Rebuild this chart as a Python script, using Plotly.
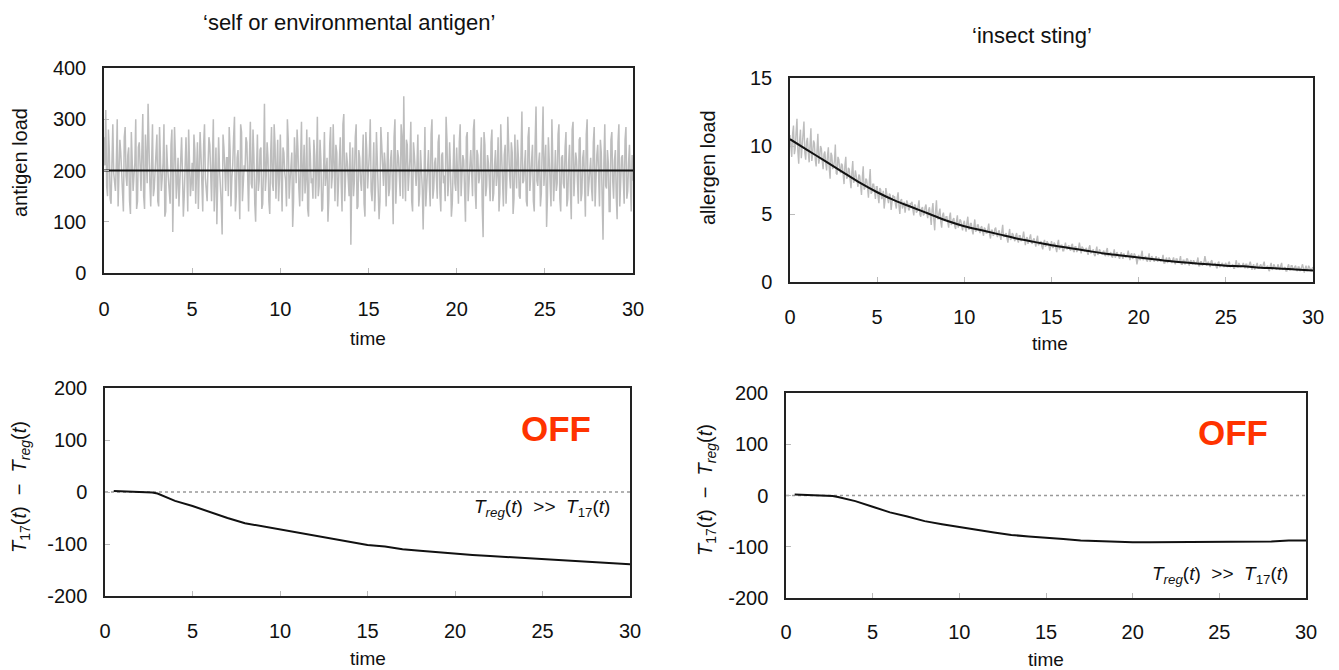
import plotly.graph_objects as go

# ---------------- data ----------------
t_noise = [round(i * 0.1, 1) for i in range(301)]
t_noise_b = [round(i * 0.1 + 0.05, 2) for i in range(300)]

antigen_noise = [
    265, 318, 150, 240, 135, 290, 180, 215, 130, 260,
    205, 120, 285, 170, 245, 115, 230, 190, 300, 140,
    255, 160, 310, 125, 220, 330, 175, 245, 150, 200,
    270, 130, 235, 185, 290, 120, 210, 165, 250, 80,
    285, 145, 225, 175, 265, 110, 240, 195, 280, 150,
    215, 270, 135, 255, 180, 230, 120, 290, 165, 210,
    250, 140, 300, 190, 95, 265, 175, 75, 245, 160,
    225, 285, 130, 210, 305, 150, 240, 105, 275, 185,
    200, 255, 120, 295, 165, 230, 100, 270, 180, 245,
    135, 330, 190, 225, 115, 285, 160, 250, 205, 140,
    270, 120, 235, 180, 300, 145, 215, 90, 265, 175,
    240, 130, 295, 195, 155, 280, 110, 230, 185, 260,
    145, 305, 170, 220, 125, 275, 200, 100, 250, 165,
    290, 140, 235, 185, 265, 120, 310, 175, 215, 150,
    55, 245, 180, 290, 130, 225, 160, 270, 110, 240,
    195, 300, 140, 255, 170, 220, 105, 285, 185, 235,
    130, 275, 165, 240, 95, 300, 180, 225, 150, 265,
    345, 140, 250, 190, 295, 120, 230, 170, 270, 155,
    210, 85, 285, 180, 240, 130, 300, 165, 225, 145,
    270, 120, 235, 190, 305, 150, 255, 110, 215, 175,
    245, 135, 290, 180, 220, 100, 275, 165, 240, 150,
    300, 125, 230, 185, 265, 70, 250, 170, 215, 140,
    280, 155, 240, 195, 120, 290, 175, 230, 135, 305,
    190, 255, 115, 270, 165, 225, 145, 315, 180, 240,
    130, 285, 200, 250, 120, 325, 170, 235, 155, 325,
    210, 90, 265, 180, 300, 140, 240, 175, 290, 120,
    230, 165, 275, 145, 250, 105, 295, 185, 220, 135,
    265, 155, 240, 110, 300, 175, 225, 140, 285, 190,
    250, 130, 235, 65, 290, 165, 215, 120, 275, 145,
    240, 105, 290, 170, 230, 135, 285, 160, 250, 120,
    180,
]

antigen_noise_b = [
    210, 170, 280, 145, 250, 195, 160, 300, 185, 235,
    150, 265, 190, 230, 140, 275, 160, 215, 125, 245,
    185, 240, 150, 270, 175, 210, 130, 290, 165, 225,
    140, 285, 160, 215, 110, 250, 190, 135, 280, 170,
    230, 180, 130, 255, 195, 150, 265, 120, 215, 175,
    160, 240, 200, 125, 275, 150, 250, 185, 140, 265,
    180, 220, 120, 245, 160, 205, 135, 270, 190, 225,
    150, 240, 185, 265, 120, 225, 175, 290, 140, 210,
    265, 150, 225, 175, 280, 135, 200, 160, 240, 125,
    210, 160, 255, 140, 230, 175, 290, 145, 260, 185,
    150, 245, 195, 130, 260, 180, 235, 140, 205, 280,
    165, 220, 140, 250, 185, 125, 265, 175, 145, 230,
    200, 150, 260, 120, 240, 170, 225, 145, 285, 190,
    160, 250, 130, 215, 175, 290, 140, 235, 160, 255,
    190, 150, 265, 125, 240, 180, 215, 135, 275, 165,
    235, 160, 215, 120, 275, 185, 140, 250, 170, 210,
    250, 150, 220, 180, 265, 135, 240, 170, 290, 145,
    200, 260, 160, 225, 140, 255, 185, 210, 130, 240,
    165, 240, 130, 225, 175, 270, 145, 215, 185, 255,
    155, 230, 175, 140, 260, 180, 205, 135, 270, 160,
    190, 255, 150, 230, 170, 265, 140, 210, 185, 280,
    160, 240, 175, 215, 130, 275, 150, 230, 180, 255,
    140, 210, 170, 265, 155, 230, 130, 250, 185, 220,
    165, 235, 145, 205, 260, 150, 230, 175, 210, 140,
    265, 160, 225, 140, 255, 180, 215, 130, 245, 170,
    250, 150, 215, 130, 240, 185, 160, 270, 145, 225,
    175, 245, 130, 215, 160, 280, 150, 235, 175, 260,
    140, 225, 180, 270, 150, 210, 165, 255, 130, 230,
    185, 260, 150, 215, 170, 240, 120, 260, 180, 220,
    150, 255, 130, 225, 180, 260, 145, 215, 175, 230,
]

t_mean_antigen = [0, 30]
antigen_mean = [200, 200]

allergen_noise = [
    10.8, 9.2, 11.5, 9.8, 12.0, 8.7, 11.2, 10.1, 11.8, 9.0,
    10.6, 8.8, 11.3, 9.4, 10.2, 8.5, 10.9, 9.1, 9.8, 8.3,
    9.6, 8.2, 9.9, 7.6, 9.3, 8.5, 10.1, 7.9, 9.0, 8.0,
    8.6, 7.2, 9.2, 7.7, 8.3, 6.9, 8.9, 7.5, 7.9, 7.0,
    7.8, 6.4, 8.5, 6.9, 7.5, 6.2, 8.3, 6.6, 7.2, 6.1,
    7.0, 5.8, 6.8, 6.2, 5.4, 6.9, 5.9, 6.5, 5.3, 6.4,
    6.3, 5.4, 6.6, 5.0, 6.1, 5.6, 5.1, 6.0, 5.3, 5.8,
    5.9, 4.9, 5.6, 5.2, 6.0, 4.8, 5.5, 5.0, 5.7, 4.7,
    5.5, 4.2, 5.8, 3.8, 6.0, 4.6, 5.4, 4.0, 5.1, 4.5,
    4.8, 4.0, 5.1, 4.3, 4.7, 3.9, 4.9, 4.2, 4.5, 3.8,
    4.5, 3.7, 4.8, 3.9, 4.3, 3.5, 4.6, 3.8, 4.2, 3.6,
    4.1, 3.4, 3.9, 3.6, 4.3, 3.2, 3.8, 3.5, 4.0, 3.3,
    3.8, 3.1, 4.2, 3.4, 3.6, 2.9, 3.9, 3.2, 3.5, 3.0,
    3.6, 2.9, 3.4, 3.1, 3.7, 2.7, 3.3, 3.0, 3.5, 2.8,
    3.2, 2.6, 3.4, 2.8, 3.0, 2.4, 3.1, 2.7, 2.9, 2.3,
    3.0, 2.5, 2.8, 2.2, 3.1, 2.6, 2.7, 2.3, 2.9, 2.4,
    2.7, 2.3, 2.8, 2.2, 2.6, 2.4, 2.9, 2.1, 2.5, 2.3,
    2.5, 2.0, 2.7, 2.2, 2.4, 1.9, 2.6, 2.1, 2.3, 2.0,
    2.3, 1.9, 2.5, 2.0, 2.2, 1.8, 2.4, 1.9, 2.1, 1.7,
    2.2, 1.7, 2.0, 1.9, 2.3, 1.6, 2.1, 1.8, 1.9, 1.3,
    2.0, 1.6, 2.3, 1.7, 1.9, 1.5, 2.1, 1.6, 1.8, 1.5,
    1.9, 1.5, 1.7, 1.6, 2.0, 1.4, 1.8, 1.5, 1.7, 1.4,
    1.8, 1.3, 1.7, 1.5, 1.9, 1.3, 1.6, 1.4, 1.7, 1.2,
    1.6, 1.3, 1.5, 1.4, 1.8, 1.2, 1.5, 1.3, 1.9, 1.2,
    1.5, 1.1, 1.6, 1.3, 1.4, 1.0, 1.5, 1.2, 1.4, 1.1,
    1.4, 1.1, 1.5, 1.2, 1.3, 1.0, 1.6, 1.1, 1.3, 1.2,
    1.4, 1.0, 1.3, 1.1, 1.5, 0.9, 1.3, 1.1, 1.4, 1.0,
    1.3, 1.0, 1.5, 1.1, 1.2, 0.8, 1.4, 1.0, 1.2, 0.9,
    1.3, 0.9, 1.4, 1.0, 1.1, 0.8, 1.3, 0.9, 1.2, 1.0,
    1.2, 0.8, 1.1, 0.9, 1.3, 0.7, 1.2, 0.9, 1.1, 0.8,
    1.1,
]

allergen_noise_b = [
    9.9, 10.9, 9.4, 11.0, 9.6, 10.4, 9.1, 10.7, 9.5, 10.3,
    9.5, 10.1, 8.9, 10.4, 9.0, 9.7, 8.7, 10.0, 8.9, 9.4,
    8.7, 9.3, 8.4, 9.5, 8.3, 8.9, 8.0, 9.2, 8.3, 8.7,
    7.9, 8.6, 7.6, 8.4, 7.5, 8.1, 7.3, 8.2, 7.4, 7.9,
    7.1, 7.7, 6.8, 7.6, 6.9, 7.4, 6.5, 7.2, 6.7, 7.0,
    6.3, 6.9, 6.1, 6.7, 6.0, 6.5, 5.8, 6.4, 5.9, 6.2,
    5.7, 6.2, 5.6, 6.0, 5.4, 5.9, 5.5, 5.8, 5.3, 5.7,
    5.3, 5.7, 5.1, 5.6, 5.0, 5.4, 4.9, 5.5, 5.0, 5.3,
    4.9, 5.3, 4.6, 5.2, 4.7, 5.1, 4.4, 4.9, 4.6, 4.8,
    4.4, 4.8, 4.2, 4.6, 4.1, 4.5, 4.0, 4.6, 4.1, 4.3,
    4.0, 4.4, 3.9, 4.3, 3.8, 4.1, 3.7, 4.2, 3.8, 4.0,
    3.7, 4.0, 3.6, 3.9, 3.5, 3.8, 3.4, 3.9, 3.5, 3.7,
    3.4, 3.7, 3.3, 3.6, 3.2, 3.5, 3.1, 3.6, 3.2, 3.4,
    3.1, 3.4, 3.0, 3.3, 2.9, 3.2, 2.8, 3.3, 2.9, 3.1,
    2.9, 3.1, 2.7, 3.0, 2.6, 2.9, 2.6, 3.0, 2.7, 2.8,
    2.6, 2.9, 2.5, 2.8, 2.4, 2.7, 2.3, 2.7, 2.5, 2.6,
    2.4, 2.7, 2.3, 2.6, 2.2, 2.5, 2.2, 2.6, 2.3, 2.4,
    2.2, 2.5, 2.1, 2.4, 2.0, 2.3, 2.0, 2.4, 2.1, 2.2,
    2.0, 2.3, 1.9, 2.2, 1.9, 2.1, 1.8, 2.2, 1.9, 2.0,
    1.9, 2.1, 1.8, 2.0, 1.7, 2.0, 1.7, 2.1, 1.8, 1.9,
    1.7, 2.0, 1.6, 1.9, 1.6, 1.8, 1.5, 1.9, 1.6, 1.7,
    1.6, 1.8, 1.5, 1.7, 1.4, 1.7, 1.4, 1.8, 1.5, 1.6,
    1.5, 1.7, 1.4, 1.6, 1.3, 1.6, 1.3, 1.7, 1.4, 1.5,
    1.4, 1.6, 1.3, 1.5, 1.2, 1.5, 1.2, 1.5, 1.3, 1.4,
    1.3, 1.5, 1.2, 1.4, 1.1, 1.4, 1.1, 1.4, 1.2, 1.3,
    1.2, 1.4, 1.1, 1.3, 1.0, 1.3, 1.1, 1.4, 1.1, 1.2,
    1.1, 1.3, 1.0, 1.3, 1.0, 1.2, 0.9, 1.3, 1.0, 1.2,
    1.1, 1.3, 1.0, 1.2, 0.9, 1.2, 0.9, 1.3, 1.0, 1.1,
    1.0, 1.2, 0.9, 1.1, 0.8, 1.1, 0.9, 1.2, 0.9, 1.0,
    0.9, 1.1, 0.8, 1.1, 0.8, 1.0, 0.8, 1.2, 0.9, 1.0,
]

t_int = list(range(31))
allergen_mean = [10.5, 9.7, 8.9, 8.1, 7.3, 6.6, 6.0, 5.5, 5.0, 4.5, 4.1,
                 3.8, 3.5, 3.2, 2.95, 2.7, 2.5, 2.3, 2.1, 1.95, 1.8,
                 1.65, 1.5, 1.4, 1.3, 1.2, 1.15, 1.05, 1.0, 0.92, 0.85]

t_diff = [0.5, 1.3, 2.0, 2.7, 3, 4, 5, 6, 7, 8, 9, 10, 11, 12, 13, 14, 15,
          16, 17, 18, 19, 20, 21, 22, 23, 24, 25, 26, 27, 28, 29, 30]
diff_self = [2, 1, -1, -1, -3, -17, -27, -39, -50, -60, -66, -72, -78, -84,
             -89, -96, -102, -105, -110, -113, -116, -118, -121, -123, -125,
             -127, -129, -131, -133, -135, -136, -139]
diff_sting = [2, 1, -1, -1, -3, -11, -22, -33, -41, -50, -56, -62, -67, -72,
              -77, -80, -82, -85, -88, -89, -91, -91, -91, -91, -91, -91,
              -91, -91, -91, -90, -88, -88]

x_ticks = [0, 5, 10, 15, 20, 25, 30]
diff_ticks = [-200, -100, 0, 100, 200]
diff_ticktext = ["-200", "-100", "0", "100", "200"]


def merged(ta, va, tb, vb):
    pts = sorted(zip(list(ta) + list(tb), list(va) + list(vb)))
    return [p[0] for p in pts], [p[1] for p in pts]


ag_t, ag_v = merged(t_noise, antigen_noise, t_noise_b, antigen_noise_b)
al_t, al_v = merged(t_noise, allergen_noise, t_noise_b, allergen_noise_b)

# ---------------- figure ----------------
W, H = 1339, 670
GRAY = "#bdbdbd"
FONT = "Liberation Sans, Arial, sans-serif"


def px_x(p):
    return p / W


def px_y(p):
    return 1 - p / H


fig = go.Figure()

fig.add_trace(go.Scatter(x=ag_t, y=ag_v, mode="lines",
                         line=dict(color=GRAY, width=1.5), xaxis="x", yaxis="y"))
fig.add_trace(go.Scatter(x=t_mean_antigen, y=antigen_mean, mode="lines",
                         line=dict(color="#111111", width=2), xaxis="x", yaxis="y"))

fig.add_trace(go.Scatter(x=al_t, y=al_v, mode="lines",
                         line=dict(color=GRAY, width=1.4), xaxis="x2", yaxis="y2"))
fig.add_trace(go.Scatter(x=t_int, y=allergen_mean, mode="lines",
                         line=dict(color="#111111", width=2, shape="spline"),
                         xaxis="x2", yaxis="y2"))

for xa, ya, d in (("x3", "y3", diff_self), ("x4", "y4", diff_sting)):
    fig.add_trace(go.Scatter(x=[0, 30], y=[0, 0], mode="lines",
                             line=dict(color="#999999", width=1.5, dash="dot"),
                             xaxis=xa, yaxis=ya))
    fig.add_trace(go.Scatter(x=t_diff, y=d, mode="lines",
                             line=dict(color="#111111", width=2),
                             xaxis=xa, yaxis=ya))


def xaxis(dom, anchor, standoff):
    return dict(domain=dom, anchor=anchor, range=[0, 30], tickvals=x_ticks,
                showgrid=False, zeroline=False, showline=True, mirror=True,
                linecolor="#222222", linewidth=1.5, ticks="inside", ticklen=5,
                tickcolor="#bbbbbb", tickwidth=1, automargin=False,
                tickfont=dict(family=FONT, size=20, color="#111111"),
                ticklabelstandoff=standoff)


def yaxis(dom, anchor, rng, tv, tt=None):
    d = dict(domain=dom, anchor=anchor, range=rng, tickvals=tv,
             showgrid=False, zeroline=False, showline=True, mirror=True,
             linecolor="#222222", linewidth=1.5, ticks="inside", ticklen=5,
             tickcolor="#bbbbbb", tickwidth=1, automargin=False,
             tickfont=dict(family=FONT, size=20, color="#111111"),
             ticklabelstandoff=12)
    if tt is not None:
        d["ticktext"] = tt
    return d


fig.update_layout(
    template="none",
    width=W, height=H, margin=dict(l=0, r=0, t=0, b=0, pad=0),
    paper_bgcolor="white", plot_bgcolor="white", showlegend=False,
    xaxis=xaxis([px_x(104), px_x(633)], "y", 17),
    yaxis=yaxis([px_y(273), px_y(68)], "x", [0, 400], [0, 100, 200, 300, 400]),
    xaxis2=xaxis([px_x(790), px_x(1313)], "y2", 16),
    yaxis2=yaxis([px_y(282), px_y(78)], "x2", [0, 15], [0, 5, 10, 15]),
    xaxis3=xaxis([px_x(105), px_x(630)], "y3", 16),
    yaxis3=yaxis([px_y(596), px_y(388)], "x3", [-200, 200], diff_ticks, diff_ticktext),
    xaxis4=xaxis([px_x(786), px_x(1306)], "y4", 15),
    yaxis4=yaxis([px_y(598), px_y(393)], "x4", [-200, 200], diff_ticks, diff_ticktext),
)

ann = []


def text(x, y, s, size=17, angle=0, color="#111111", **kw):
    ann.append(dict(x=px_x(x), y=px_y(y), xref="paper", yref="paper", text=s,
                    showarrow=False, textangle=angle,
                    font=dict(family=FONT, size=size, color=color),
                    xanchor="center", yanchor="middle", **kw))


text(349, 22, "‘self or environmental antigen’", 22)
text(1032, 35, "‘insect sting’", 22)
text(368, 338, "time", 19)
text(1050, 343, "time", 19)
text(368, 658, "time", 19)
text(1046, 659, "time", 19)
text(20, 163, "antigen load", 20, -90)
text(708, 168, "allergen load", 20, -90)
ylab = "<i>T</i><sub>17</sub>(<i>t</i>)  −  <i>T<sub>reg</sub></i>(<i>t</i>)"
text(20, 487, ylab, 20, -90)
text(706, 490, ylab, 20, -90)
text(556, 428, "<b>OFF</b>", 35, color="#ff3300")
text(1233, 432, "<b>OFF</b>", 35, color="#ff3300")
ann_txt = "<i>T<sub>reg</sub></i>(<i>t</i>)  >>  <i>T</i><sub>17</sub>(<i>t</i>)"
text(542, 508, ann_txt, 19)
text(1220, 575, ann_txt, 19)

fig.update_layout(annotations=ann)
fig.write_html("out.html", config={"displayModeBar": False},
               post_script="document.body.style.margin='0px';")
